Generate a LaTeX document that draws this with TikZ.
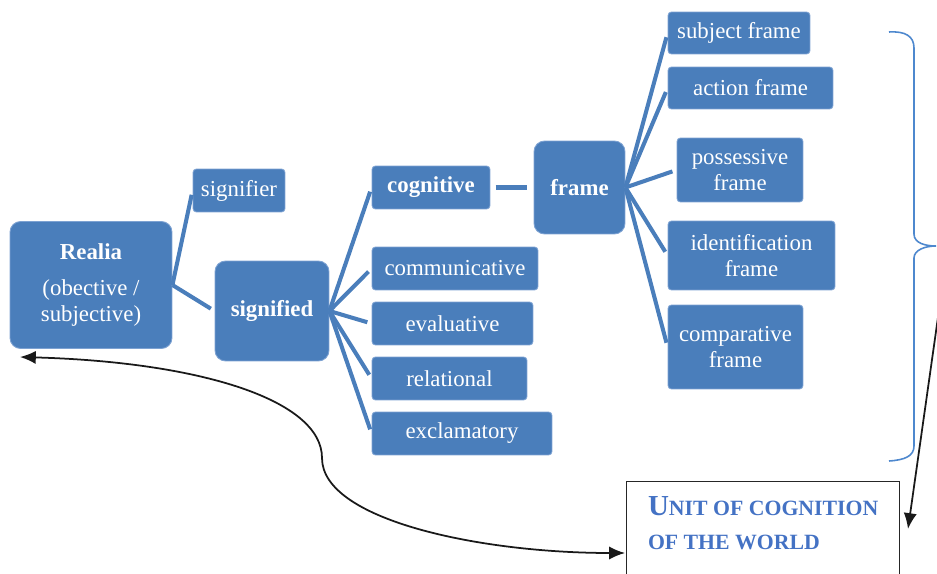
\documentclass[tikz,border=0pt]{standalone}
\usepackage{fontspec}
\setmainfont{Liberation Serif}
\usetikzlibrary{arrows.meta}
\definecolor{boxblue}{RGB}{74,126,187}
\definecolor{edgeblue}{RGB}{125,162,210}
\definecolor{braceblue}{RGB}{78,136,206}
\definecolor{unitblue}{RGB}{68,114,196}
\tikzset{
	blk/.style={fill=boxblue, draw=edgeblue, line width=0.5pt, text=white, rounded corners=2pt, align=center, inner sep=0pt, font=\fontsize{13}{14.5}\selectfont},
	bigblk/.style={blk, rounded corners=6pt},
	link/.style={draw=boxblue, line width=2.3pt, shorten >=2.5pt},
	unitbox/.style={draw=black!85, line width=0.8pt, anchor=north west, align=left, text=unitblue, inner xsep=0.25cm, inner ysep=0.3cm, minimum width=5.46cm, text depth=1.6cm, font=\fontsize{12.4}{19.5}\selectfont\bfseries},
	brace/.style={draw=braceblue, line width=0.9pt},
	pointer/.style={draw=black!90, line width=1pt}
}
\newcommand{\unitcap}[1]{{\fontsize{16.5}{19.5}\selectfont #1}}

\begin{document}
\begin{tikzpicture}[x=0.02cm,y=-0.02cm]
			%%%%% START %%%%%
			\useasboundingbox (0,0) rectangle (937,574);
			\def\hs{0.86cm}
			
			\node[bigblk, minimum width=3.24cm, minimum height=2.54cm] (realia) at (91,285) {\textbf{Realia}\\[6pt](obective /\\subjective)};
			\node[blk, minimum width=1.84cm, minimum height=\hs] (signifier) at (239,190.5) {signifier};
			\node[bigblk, minimum width=2.28cm, minimum height=2cm] (signified) at (272,311) {\textbf{signified}};
			
			\node[blk, minimum width=2.36cm, minimum height=\hs] (cognitive) at (431,187.5) {\textbf{cognitive}};
			\node[blk, minimum width=3.32cm, minimum height=\hs] (communicative) at (455,268.5) {communicative};
			\node[blk, minimum width=3.22cm, minimum height=\hs] (evaluative) at (452.5,323.5) {evaluative};
			\node[blk, minimum width=3.10cm, minimum height=\hs] (relational) at (449.5,378.5) {relational};
			\node[blk, minimum width=3.6cm, minimum height=\hs] (exclamatory) at (462,433.5) {exclamatory};
			
			\node[bigblk, minimum width=1.82cm, minimum height=1.86cm] (frame) at (579.5,187.5) {\textbf{frame}};
			
			\node[blk, minimum width=2.84cm, minimum height=0.84cm] (subjfr) at (739,33) {subject frame};
			\node[blk, minimum width=3.3cm, minimum height=0.84cm] (actfr) at (750.5,88) {action frame};
			\node[blk, minimum width=2.52cm, minimum height=1.28cm] (possfr) at (740,170) {possessive\\frame};
			\node[blk, minimum width=3.34cm, minimum height=1.38cm] (identfr) at (751.5,255.5) {identification\\frame};
			\node[blk, minimum width=2.7cm, minimum height=1.68cm] (compfr) at (735.5,347) {comparative\\frame};
			
			\node[unitbox] (unit) at (626,481) {\unitcap{U}NIT OF COGNITION\\OF THE WORLD};
			
			% links
			\draw[link] (realia.east) -- (signifier.west);
			\draw[link] (realia.east) -- (signified.west);
			\foreach \n in {cognitive,communicative,evaluative,relational,exclamatory}
				\draw[link] (signified.east) -- (\n.west);
			\draw[link, shorten <=3pt, shorten >=4pt] (cognitive.east) -- (frame.west);
			\foreach \n in {subjfr,actfr,possfr,identfr,compfr}
				\draw[link] (frame.east) -- (\n.west);
			
			% brace
			\draw[brace] (889,32) .. controls (905,31) and (914,36) .. (914,48) -- (914,234) .. controls (914,243) and (925,246) .. (936,246) .. controls (925,246) and (914,250) .. (914,258) -- (914,446) .. controls (914,456) and (905,460) .. (889,461);
			
			% arrows
			\coordinate (rtip) at (20,357);
			\coordinate (utip) at (625,553);
			\coordinate (bstart) at (943,282);
			\coordinate (btip) at (908,529);
			\draw[pointer, {Latex[length=9pt,width=7.5pt]}-{Latex[length=9pt,width=7.5pt]}] (rtip) .. controls (200,362) and (322,400) .. (322,458) .. controls (322,520) and (480,553) .. (utip);
			\draw[pointer, -{Latex[length=9pt,width=7.5pt]}] (bstart) -- (btip);
			%%%%% START %%%%%
\end{tikzpicture}
\end{document}
